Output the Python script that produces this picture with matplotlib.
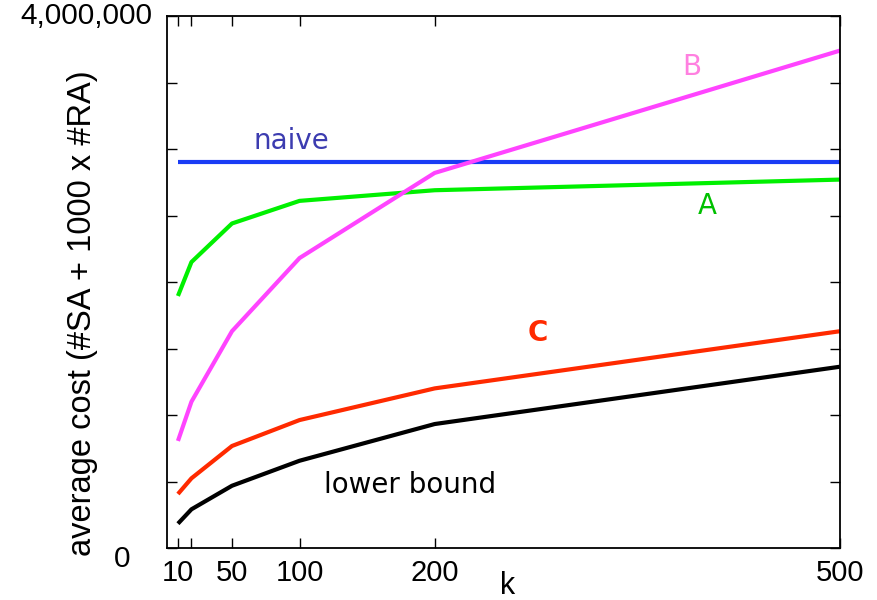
import matplotlib
matplotlib.use("Agg")
import matplotlib.pyplot as plt

k = [10, 20, 50, 100, 200, 500]
naive = [2.90e6] * len(k)
A = [1.895e6, 2.15e6, 2.44e6, 2.61e6, 2.69e6, 2.77e6]
B = [0.805e6, 1.10e6, 1.63e6, 2.18e6, 2.82e6, 3.74e6]
C = [0.406e6, 0.524e6, 0.767e6, 0.962e6, 1.20e6, 1.63e6]
lower = [0.183e6, 0.291e6, 0.468e6, 0.656e6, 0.932e6, 1.363e6]

xticks = [10, 20, 50, 100, 200, 500]
xticklabels = ["10", "", "50", "100", "200", "500"]
yticks = [0, 500000, 1000000, 1500000, 2000000, 2500000, 3000000, 3500000, 4000000]

fig = plt.figure(figsize=(8.77, 6.0), dpi=100)
ax = fig.add_axes([167/877, 1-548/600, (840-167)/877, (548-16)/600])

lw = 3.0
ax.plot(k, naive, color="#1a3cf5", lw=lw, solid_capstyle="butt")
ax.plot(k, A, color="#00f000", lw=lw, solid_capstyle="butt")
ax.plot(k, B, color="#ff44ff", lw=lw, solid_capstyle="butt")
ax.plot(k, C, color="#ff2a00", lw=lw, solid_capstyle="butt")
ax.plot(k, lower, color="black", lw=lw, solid_capstyle="butt")

ax.set_xlim(1.9, 500)
ax.set_ylim(0, 4000000)

ax.set_xticks(xticks)
ax.set_xticklabels(xticklabels, family="Liberation Sans", fontsize=21)
ax.set_yticks(yticks)
ax.set_yticklabels([""] * len(yticks))
ax.tick_params(axis="both", direction="in", length=7, width=1, top=True, right=True, pad=8)
for s in ax.spines.values():
    s.set_linewidth(1.3)

ax.text(-0.022, 1.0, "4,000,000", transform=ax.transAxes, ha="right", va="center",
        family="Liberation Sans", fontsize=21.5)
ax.text(-0.055, -0.02, "0", transform=ax.transAxes, ha="right", va="center",
        family="Liberation Sans", fontsize=21.5)

fig.text(83/877, 1-313/600, "average cost (#SA + 1000 x #RA)", rotation=90,
         ha="center", va="center", family="Liberation Sans", fontsize=23.5)
fig.text(508/877, 1-594/600, "k", ha="center", va="baseline", family="Liberation Sans", fontsize=22)

ax.text(93.6, 3.06e6, "naive", color="#3c3cb0", fontsize=20, ha="center", va="center", family="DejaVu Sans")
ax.text(181.7, 0.47e6, "lower bound", color="black", fontsize=20, ha="center", va="center", family="DejaVu Sans")
ax.text(401.5, 2.57e6, "A", color="#00c000", fontsize=20, ha="center", va="center", family="DejaVu Sans")
ax.text(390, 3.62e6, "B", color="#ff80e0", fontsize=20, ha="center", va="center", family="DejaVu Sans")
ax.text(276.5, 1.62e6, "C", color="#ff2a00", fontsize=20, ha="center", va="center", family="DejaVu Sans", fontweight="bold")

fig.savefig("out.png", dpi=100)
